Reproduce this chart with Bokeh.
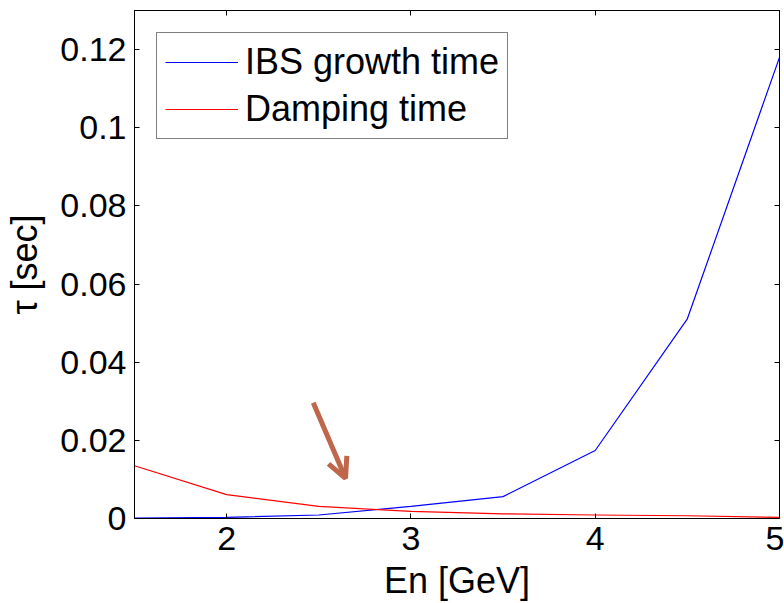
from bokeh.plotting import figure
from bokeh.models import (LinearAxis, FixedTicker, Range1d, Legend, LegendItem,
                          Arrow, OpenHead)
from bokeh.embed import file_html
from bokeh.resources import INLINE

# ---- data ----
energy = [1.5, 2.0, 2.5, 3.0, 3.5, 4.0, 4.5, 5.0]
ibs_growth = [0.0001, 0.0003, 0.0009, 0.0031, 0.0056, 0.0174, 0.0511, 0.1180]
damping = [0.0135, 0.0061, 0.0031, 0.0018, 0.0012, 0.0009, 0.0007, 0.0003]

x_ticks = [2, 3, 4, 5]
y_ticks = [0, 0.02, 0.04, 0.06, 0.08, 0.10, 0.12]
y_tick_labels = ["0", "0.02", "0.04", "0.06", "0.08", "0.1", "0.12"]

series_names = ["IBS growth time", "Damping time"]

# arrow annotation (data coordinates)
arrow_start = (2.47, 0.0296)
arrow_end = (2.645, 0.0103)

FONT = "Liberation Sans"
FS = "34px"
FS_BIG = "36px"

p = figure(width=784, height=603, output_backend="svg", toolbar_location=None,
           x_range=Range1d(1.5, 5.0), y_range=Range1d(0, 0.13),
           min_border_left=134, min_border_right=5, min_border_top=10,
           min_border_bottom=78)
p.background_fill_color = "white"
p.border_fill_color = "white"
p.outline_line_color = "black"
p.outline_line_width = 1
p.outline_line_alpha = 1
p.grid.visible = False

# main axes
for ax in (p.xaxis[0], p.yaxis[0]):
    ax.major_tick_in = 5
    ax.major_tick_out = 0
    ax.minor_tick_in = 0
    ax.minor_tick_out = 0
    ax.axis_line_color = "black"
    ax.major_tick_line_color = "black"
    ax.major_label_text_font = FONT
    ax.major_label_text_font_size = FS
    ax.major_label_text_color = "black"
    ax.axis_label_text_font = FONT
    ax.axis_label_text_font_size = FS_BIG
    ax.axis_label_text_font_style = "normal"
    ax.axis_label_text_color = "black"

p.xaxis[0].ticker = FixedTicker(ticks=x_ticks)
p.xaxis[0].axis_label = "En [GeV]"
p.xaxis[0].major_label_standoff = 8
p.xaxis[0].axis_label_standoff = 7

p.yaxis[0].ticker = FixedTicker(ticks=y_ticks)
p.yaxis[0].major_label_overrides = {t: l for t, l in zip(y_ticks, y_tick_labels)}
p.yaxis[0].axis_label = "τ [sec]"
p.yaxis[0].major_label_standoff = 8
p.yaxis[0].axis_label_standoff = 12

# mirrored ticks (top / right)
top = LinearAxis(ticker=FixedTicker(ticks=x_ticks), major_tick_in=5, major_tick_out=0,
                 minor_tick_in=0, minor_tick_out=0, major_label_text_font_size="0px",
                 major_label_standoff=0, axis_line_color="black")
top.major_label_overrides = {t: "" for t in x_ticks}
right = LinearAxis(ticker=FixedTicker(ticks=y_ticks), major_tick_in=5, major_tick_out=0,
                   minor_tick_in=0, minor_tick_out=0, major_label_text_font_size="0px",
                   major_label_standoff=0, axis_line_color="black")
right.major_label_overrides = {t: "" for t in y_ticks}
p.add_layout(top, "above")
p.add_layout(right, "right")

r1 = p.line(energy, ibs_growth, line_color="#0000FF", line_width=1.2)
r2 = p.line(energy, damping, line_color="#FF0000", line_width=1.2)

legend = Legend(items=[LegendItem(label=series_names[0], renderers=[r1]),
                       LegendItem(label=series_names[1], renderers=[r2])],
                location="top_left", margin=22, padding=8, spacing=5,
                glyph_width=73, glyph_height=36, label_height=36,
                label_standoff=7,
                label_text_font=FONT, label_text_font_size=FS_BIG,
                label_text_color="black",
                border_line_color="black", border_line_width=1,
                background_fill_color="white", background_fill_alpha=1)
p.add_layout(legend, "center")

arrow = Arrow(end=OpenHead(size=20, line_color="#C0664A", line_width=5),
              x_start=arrow_start[0], y_start=arrow_start[1],
              x_end=arrow_end[0], y_end=arrow_end[1],
              line_color="#C0664A", line_width=5)
p.add_layout(arrow)

open("out.html", "w").write(file_html(p, INLINE))
